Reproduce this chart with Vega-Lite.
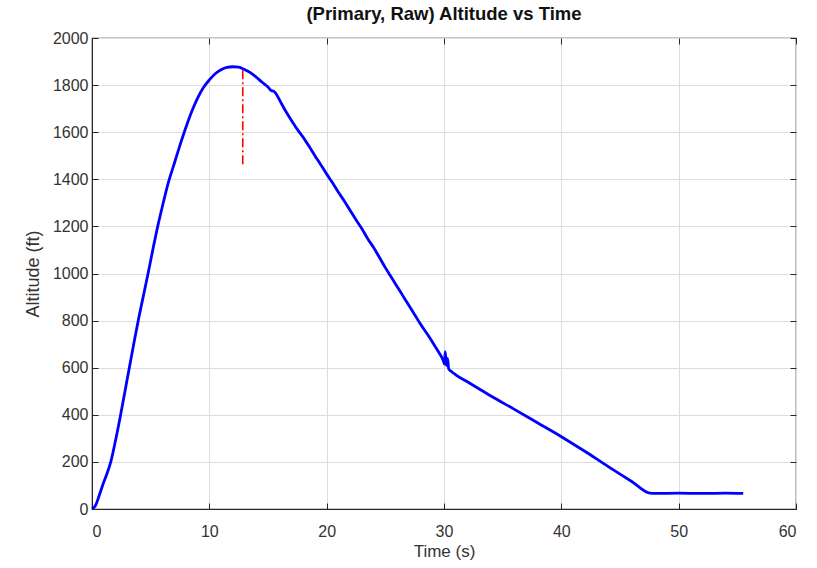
{
  "$schema": "https://vega.github.io/schema/vega-lite/v6.json",
  "width": 704,
  "height": 471,
  "autosize": {"type": "none"},
  "padding": {"left": 92, "top": 38, "right": 21, "bottom": 59},
  "background": "white",
  "title": {"text": "(Primary, Raw) Altitude vs Time", "font": "Liberation Sans", "fontSize": 18.5, "fontWeight": "bold", "color": "#111111", "offset": 7},
  "config": {
    "view": {"stroke": "#262626", "strokeWidth": 1.2},
    "axis": {
      "labelFont": "Liberation Sans", "labelFontSize": 16, "labelColor": "#333333",
      "titleFont": "Liberation Sans", "titleFontWeight": "normal", "titleColor": "#333333",
      "gridColor": "#dddddd", "gridWidth": 1,
      "domainColor": "#262626", "tickColor": "#262626", "tickSize": -6
    }
  },
  "datasets": {
    "alt": [
      {"t": 0, "a": 0}, {"t": 0.3, "a": 15}, {"t": 0.6, "a": 55}, {"t": 0.9, "a": 100},
      {"t": 1.2, "a": 140}, {"t": 1.6, "a": 200},
      {"t": 2.0, "a": 290}, {"t": 2.4, "a": 390}, {"t": 2.8, "a": 497}, {"t": 3.2, "a": 605},
      {"t": 3.6, "a": 712}, {"t": 4.0, "a": 815}, {"t": 4.4, "a": 910}, {"t": 4.8, "a": 1005},
      {"t": 5.2, "a": 1105}, {"t": 5.6, "a": 1200}, {"t": 6.0, "a": 1285}, {"t": 6.5, "a": 1385},
      {"t": 7.0, "a": 1465}, {"t": 7.5, "a": 1545}, {"t": 8.0, "a": 1620}, {"t": 8.5, "a": 1688},
      {"t": 9.0, "a": 1745}, {"t": 9.5, "a": 1790}, {"t": 10.0, "a": 1822}, {"t": 10.5, "a": 1848},
      {"t": 11.0, "a": 1865}, {"t": 11.5, "a": 1875}, {"t": 12.0, "a": 1878}, {"t": 12.5, "a": 1876},
      {"t": 13.0, "a": 1866}, {"t": 13.5, "a": 1853}, {"t": 14.0, "a": 1834}, {"t": 14.5, "a": 1812},
      {"t": 15.0, "a": 1792}, {"t": 15.3, "a": 1776}, {"t": 15.5, "a": 1774}, {"t": 15.7, "a": 1762},
      {"t": 16.0, "a": 1735}, {"t": 16.5, "a": 1690}, {"t": 17.0, "a": 1650}, {"t": 17.5, "a": 1612},
      {"t": 18.0, "a": 1578}, {"t": 18.5, "a": 1540}, {"t": 19.0, "a": 1500}, {"t": 19.5, "a": 1462},
      {"t": 20.0, "a": 1422}, {"t": 20.5, "a": 1385}, {"t": 21.0, "a": 1345}, {"t": 21.5, "a": 1308},
      {"t": 22.0, "a": 1268}, {"t": 22.5, "a": 1228}, {"t": 23.0, "a": 1190}, {"t": 23.5, "a": 1148},
      {"t": 24.0, "a": 1110}, {"t": 24.5, "a": 1068}, {"t": 25.0, "a": 1025}, {"t": 25.5, "a": 985},
      {"t": 26.0, "a": 945}, {"t": 26.5, "a": 905}, {"t": 27.0, "a": 865}, {"t": 27.5, "a": 825},
      {"t": 28.0, "a": 785}, {"t": 28.5, "a": 748}, {"t": 29.0, "a": 710}, {"t": 29.5, "a": 670},
      {"t": 29.9, "a": 635}, {"t": 30.05, "a": 615}, {"t": 30.1, "a": 668}, {"t": 30.2, "a": 610},
      {"t": 30.3, "a": 640}, {"t": 30.4, "a": 595}, {"t": 30.66, "a": 583}, {"t": 31.0, "a": 570},
      {"t": 32.2, "a": 534}, {"t": 34.0, "a": 480}, {"t": 36.0, "a": 423}, {"t": 38.0, "a": 365},
      {"t": 40.0, "a": 307}, {"t": 42.0, "a": 245}, {"t": 44.0, "a": 180}, {"t": 46.0, "a": 117},
      {"t": 47.57, "a": 67}, {"t": 48.0, "a": 66}, {"t": 50.0, "a": 67}, {"t": 52.0, "a": 66},
      {"t": 54.0, "a": 67}, {"t": 55.5, "a": 66}
    ],
    "red": [{"t": 12.85, "a0": 1464, "a1": 1864}]
  },
  "resolve": {"axis": {"x": "independent", "y": "independent"}},
  "layer": [
    {
      "data": {"name": "alt"},
      "mark": {"type": "line", "color": "#0000ff", "strokeWidth": 2.8, "interpolate": "monotone"},
      "encoding": {
        "x": {"field": "t", "type": "quantitative", "scale": {"domain": [0, 60], "nice": false},
              "axis": {"title": "Time (s)", "titleFontSize": 17, "values": [0, 10, 20, 30, 40, 50, 60], "labelPadding": 20, "titlePadding": 4}},
        "y": {"field": "a", "type": "quantitative", "scale": {"domain": [0, 2000], "nice": false},
              "axis": {"title": "Altitude (ft)", "titleFontSize": 18, "format": "d", "values": [0, 200, 400, 600, 800, 1000, 1200, 1400, 1600, 1800, 2000], "labelPadding": 10, "titlePadding": 10}}
      }
    },
    {
      "data": {"name": "red"},
      "mark": {"type": "rule", "color": "#ff0000", "strokeWidth": 1.6, "strokeDash": [9, 3, 2, 3]},
      "encoding": {
        "x": {"field": "t", "type": "quantitative", "axis": null},
        "y": {"field": "a0", "type": "quantitative", "axis": null},
        "y2": {"field": "a1"}
      }
    },
    {
      "data": {"name": "red"},
      "mark": {"type": "point", "opacity": 0},
      "encoding": {
        "x": {"field": "t", "type": "quantitative",
              "axis": {"orient": "top", "labels": false, "title": null, "grid": false, "domain": false, "values": [0, 10, 20, 30, 40, 50, 60]}},
        "y": {"field": "a0", "type": "quantitative",
              "axis": {"orient": "right", "labels": false, "title": null, "grid": false, "domain": false, "values": [0, 200, 400, 600, 800, 1000, 1200, 1400, 1600, 1800, 2000]}}
      }
    }
  ]
}
